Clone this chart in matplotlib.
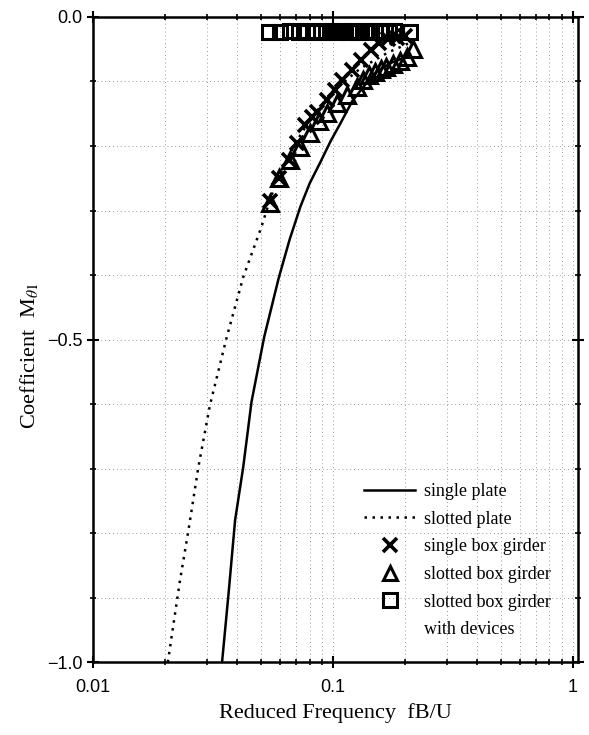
import numpy as np
import matplotlib.pyplot as plt
from matplotlib.ticker import FixedLocator, NullFormatter

plt.rcParams['font.family'] = ['Liberation Serif', 'DejaVu Serif']
plt.rcParams['mathtext.fontset'] = 'stix'

# single plate (solid)
sp_x = [0.0345, 0.0368, 0.0391, 0.0423, 0.0458, 0.0517, 0.0594, 0.0660, 0.0732,
        0.080, 0.0887, 0.098, 0.1075, 0.1202, 0.135, 0.152, 0.175, 0.209]
sp_y = [-1.0, -0.89, -0.78, -0.697, -0.596, -0.496, -0.405, -0.345, -0.294,
        -0.258, -0.225, -0.192, -0.165, -0.131, -0.107, -0.085, -0.071, -0.060]

# slotted plate (dotted)
sl_x = [0.0205, 0.0230, 0.0250, 0.0275, 0.0307, 0.0361, 0.0423, 0.0504, 0.055,
        0.060, 0.070, 0.080, 0.100, 0.130, 0.170, 0.210]
sl_y = [-1.0, -0.875, -0.795, -0.697, -0.602, -0.496, -0.403, -0.325, -0.28,
        -0.245, -0.195, -0.160, -0.115, -0.080, -0.055, -0.040]

# single box girder (x)
sbg_x = [0.0546, 0.0596, 0.0655, 0.0710, 0.0767, 0.0820, 0.0859, 0.0945, 0.102,
         0.109, 0.120, 0.131, 0.144, 0.155, 0.170, 0.185, 0.200]
sbg_y = [-0.286, -0.250, -0.222, -0.195, -0.167, -0.155, -0.147, -0.129, -0.113,
         -0.098, -0.082, -0.067, -0.051, -0.040, -0.035, -0.032, -0.030]

# slotted box girder (triangle)
slb_x = [0.0545, 0.0597, 0.0665, 0.0732, 0.0800, 0.0873, 0.0945, 0.104, 0.1146,
         0.126, 0.133, 0.142, 0.150, 0.158, 0.167, 0.178, 0.190, 0.203, 0.216]
slb_y = [-0.289, -0.250, -0.222, -0.201, -0.180, -0.162, -0.149, -0.134, -0.121,
         -0.108, -0.098, -0.090, -0.085, -0.081, -0.077, -0.073, -0.069, -0.062,
         -0.049]

# slotted box girder with devices (square)
sd_x = [0.054, 0.060, 0.066, 0.072, 0.078, 0.085, 0.089, 0.094, 0.099, 0.104, 0.110,
        0.117, 0.123, 0.129, 0.136, 0.143, 0.150, 0.158, 0.165, 0.172, 0.180, 0.210]
sd_y = [-0.023, -0.023, -0.022, -0.023, -0.022, -0.023, -0.022, -0.023, -0.022,
        -0.023, -0.022, -0.023, -0.022, -0.023, -0.022, -0.023, -0.022, -0.023,
        -0.022, -0.023, -0.022, -0.023]

fig = plt.figure(figsize=(5.89, 7.35), dpi=100)
ax = fig.add_axes([0.158, 0.099, 0.823, 0.878])

ax.plot(sp_x, sp_y, c='k', lw=1.8, label='single plate')
ax.plot(sl_x, sl_y, c='k', lw=1.8, ls=(0, (1.0, 2.2)), label='slotted plate')
ax.plot(sbg_x, sbg_y, ls='none', marker='x', ms=10, mew=2.6, c='k', label='single box girder')
ax.plot(slb_x, slb_y, ls='none', marker='^', ms=11, mew=2.2, mfc='none', c='k',
        label='slotted box girder')
ax.plot(sd_x, sd_y, ls='none', marker='s', ms=10.5, mew=2.2, mfc='none', c='k',
        label='slotted box girder')
ax.plot([], [], ls='none', label='with devices')

ax.set_xscale('log')
ax.set_xlim(0.01, 1.05)
ax.set_ylim(-1.0, 0.0)
ax.set_xticks([0.01, 0.1, 1])
ax.set_xticklabels(['0.01', '0.1', '1'])
ax.set_yticks([-1.0, -0.5, 0.0])
ax.set_yticklabels(['\u22121.0', '\u22120.5', '0.0'])
ax.yaxis.set_minor_locator(FixedLocator(np.arange(-0.9, 0, 0.1)))
ax.xaxis.set_minor_formatter(NullFormatter())
for lab in ax.get_xticklabels() + ax.get_yticklabels():
    lab.set_family('Liberation Sans')

ax.grid(True, which='both', ls=(0, (1, 3)), color='0.6', lw=0.7)
ax.tick_params(which='both', top=True, right=True, direction='inout', labelsize=13)
ax.tick_params(axis='x', pad=8)
ax.tick_params(which='major', length=8, width=1.5)
ax.tick_params(which='minor', length=5, width=1.2)
for s in ax.spines.values():
    s.set_linewidth(1.8)

ax.set_xlabel('Reduced Frequency  fB/U', fontsize=16, labelpad=5)
ax.set_ylabel(r'Coefficient  M$_{\theta1}$', fontsize=16)
ax.yaxis.set_label_coords(-0.110, 0.475)

ax.legend(loc='lower right', bbox_to_anchor=(0.978, 0.012), frameon=False, fontsize=13,
          handlelength=2.8, labelspacing=0.59, handletextpad=0.5, markerscale=0.95)

fig.savefig('out.png', dpi=100)
